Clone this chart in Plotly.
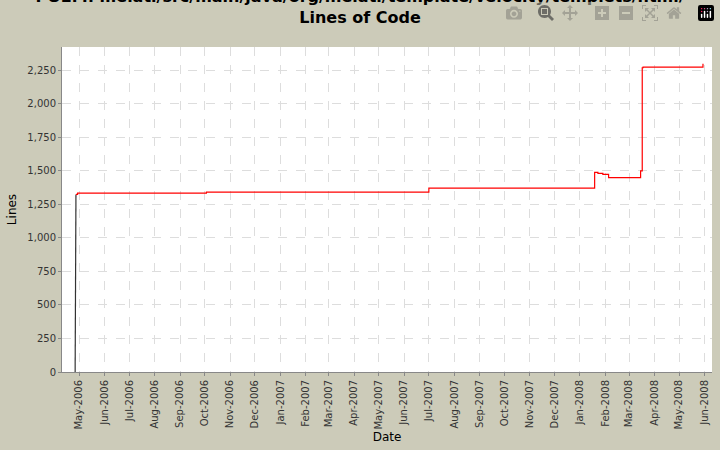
import plotly.graph_objects as go

dates = ["2006-04-26", "2006-04-27", "2006-04-29", "2006-10-03", "2007-07-01",
         "2008-01-19", "2008-01-23", "2008-01-29", "2008-02-05", "2008-03-15",
         "2008-03-17", "2008-03-18", "2008-05-29", "2008-05-30"]
lines = [0, 1325, 1335, 1342, 1372, 1490, 1482, 1475, 1450, 1500, 2270, 2275, 2275, 2300]

months = ["2006-05-01","2006-06-01","2006-07-01","2006-08-01","2006-09-01","2006-10-01",
          "2006-11-01","2006-12-01","2007-01-01","2007-02-01","2007-03-01","2007-04-01",
          "2007-05-01","2007-06-01","2007-07-01","2007-08-01","2007-09-01","2007-10-01",
          "2007-11-01","2007-12-01","2008-01-01","2008-02-01","2008-03-01","2008-04-01",
          "2008-05-01","2008-06-01"]
month_labels = ["May-2006","Jun-2006","Jul-2006","Aug-2006","Sep-2006","Oct-2006",
                "Nov-2006","Dec-2006","Jan-2007","Feb-2007","Mar-2007","Apr-2007",
                "May-2007","Jun-2007","Jul-2007","Aug-2007","Sep-2007","Oct-2007",
                "Nov-2007","Dec-2007","Jan-2008","Feb-2008","Mar-2008","Apr-2008",
                "May-2008","Jun-2008"]
yticks = [0, 250, 500, 750, 1000, 1250, 1500, 1750, 2000, 2250]

fig = go.Figure()
fig.add_trace(go.Scatter(x=dates[:2], y=lines[:2], mode="lines", line=dict(color="#333333", width=1.2)))
fig.add_trace(go.Scatter(x=dates[1:], y=lines[1:], mode="lines", line_shape="hv",
                         line=dict(color="#ff0000", width=1.2)))

font = "DejaVu Sans"
fig.update_layout(
    width=720, height=450, showlegend=False,
    paper_bgcolor="#cccbb9", plot_bgcolor="white",
    margin=dict(l=62, r=8, t=47, b=78),
    font=dict(family=font, size=10, color="#333333"),
    title=dict(text="<b>POEM: melati/src/main/java/org/melati/template/velocity/templets/html/<br>Lines of Code</b>",
               x=0.5, xanchor="center", y=0.995, yanchor="top",
               font=dict(family=font, size=16, color="#000000")),
)
fig.update_xaxes(type="date", range=["2006-04-10", "2008-06-10"],
                 tickmode="array", tickvals=months, ticktext=month_labels, tickangle=-90,
                 showgrid=True, gridcolor="#dddddd", griddash="dash", gridwidth=1,
                 ticks="outside", ticklen=3, tickcolor="#888888",
                 showline=True, linecolor="#888888", mirror=False,
                 title=dict(text="Date", font=dict(size=12, color="#000000"), standoff=4),
                 tickfont=dict(size=10))
fig.update_yaxes(range=[0, 2425], tickmode="array", tickvals=yticks,
                 tickformat=",d",
                 showgrid=True, gridcolor="#dddddd", griddash="dash", gridwidth=1,
                 ticks="outside", ticklen=3, tickcolor="#888888", zeroline=False,
                 showline=True, linecolor="#888888",
                 title=dict(text="Lines", font=dict(size=12, color="#000000"), standoff=8),
                 tickfont=dict(size=10))
fig.write_html("out.html", post_script="document.body.style.margin='0';document.body.style.overflow='hidden';")
